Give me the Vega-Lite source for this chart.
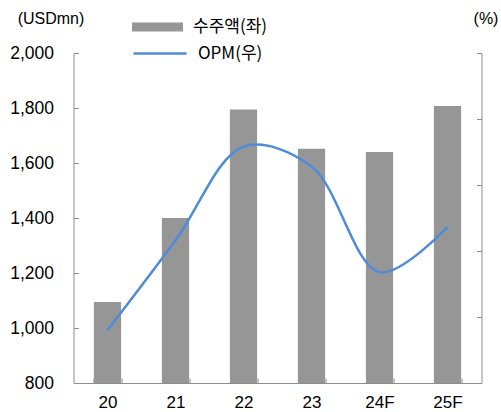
{
  "$schema": "https://vega.github.io/schema/vega-lite/v6.json",
  "width": 408,
  "height": 330,
  "autosize": "none",
  "padding": {"left": 73.5, "top": 53, "right": 19.5, "bottom": 29},
  "background": "white",
  "config": {
    "view": {"stroke": null},
    "font": "Liberation Sans",
    "axis": {
      "domainColor": "#8c8c8c",
      "tickColor": "#8c8c8c",
      "labelColor": "#000000",
      "labelFontSize": 17,
      "labelFont": "Liberation Sans",
      "grid": false,
      "titleFont": "Liberation Sans",
      "titleFontSize": 16,
      "titleFontWeight": "normal",
      "titleColor": "#000000"
    },
    "legend": {
      "labelFont": "Noto Sans CJK KR",
      "labelFontSize": 17,
      "labelColor": "#000000",
      "padding": 0
    }
  },
  "data": {
    "values": [
      {"year": "20", "orders": 1095, "opm": 14.0},
      {"year": "21", "orders": 1400, "opm": 20.8},
      {"year": "22", "orders": 1795, "opm": 27.9},
      {"year": "23", "orders": 1652, "opm": 26.4},
      {"year": "24F", "orders": 1640, "opm": 18.4},
      {"year": "25F", "orders": 1807, "opm": 21.8}
    ]
  },
  "layer": [
    {
      "mark": {"type": "bar", "clip": true},
      "encoding": {
        "x": {
          "field": "year",
          "type": "ordinal",
          "sort": null,
          "scale": {"paddingInner": 0.6, "paddingOuter": 0.3},
          "axis": {
            "title": null,
            "labelAngle": 0,
            "tickBand": "extent",
            "tickSize": -5,
            "labelPadding": 16
          }
        },
        "y": {
          "field": "orders",
          "type": "quantitative",
          "scale": {"domain": [800, 2000], "nice": false, "zero": false},
          "axis": {
            "values": [800, 1000, 1200, 1400, 1600, 1800, 2000],
            "format": ",d",
            "tickSize": -5,
            "labelPadding": 25,
            "labelFontSize": 17.5,
            "title": "(USDmn)",
            "titleAngle": 0,
            "titleX": -23,
            "titleY": -35,
            "titleAlign": "center",
            "titleBaseline": "middle"
          }
        },
        "fill": {
          "datum": "수주액(좌)",
          "scale": {"range": ["#969696"]},
          "legend": {
            "title": null,
            "orient": "none",
            "legendX": 58.5,
            "legendY": -51.5,
            "symbolType": "M-1,-0.176H1V0.176H-1Z",
            "symbolSize": 2601,
            "symbolStrokeWidth": 0,
            "labelOffset": 10
          }
        }
      }
    },
    {
      "mark": {"type": "line", "interpolate": "catmull-rom", "strokeWidth": 2.5},
      "encoding": {
        "x": {"field": "year", "type": "ordinal", "sort": null},
        "y": {
          "field": "opm",
          "type": "quantitative",
          "scale": {"domain": [10, 35], "nice": false, "zero": false},
          "axis": {
            "orient": "right",
            "values": [10, 15, 20, 25, 30, 35],
            "format": "d",
            "tickSize": -5,
            "labelPadding": 25,
            "labelFontSize": 17.5,
            "title": "(%)",
            "titleAngle": 0,
            "titleX": 4,
            "titleY": -35,
            "titleAlign": "center",
            "titleBaseline": "middle"
          }
        },
        "stroke": {
          "datum": "OPM(우)",
          "scale": {"range": ["#4E8BD9"]},
          "legend": {
            "title": null,
            "orient": "none",
            "legendX": 58.5,
            "legendY": -27.5,
            "symbolType": "stroke",
            "symbolSize": 2809,
            "symbolStrokeWidth": 2.5,
            "labelOffset": 10
          }
        }
      }
    }
  ],
  "resolve": {"scale": {"y": "independent"}}
}
